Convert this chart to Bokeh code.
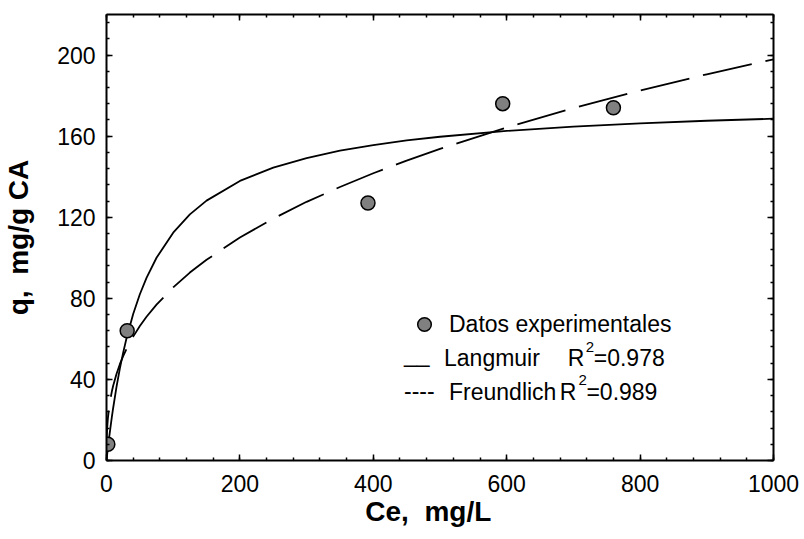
from bokeh.plotting import figure
from bokeh.models import (SingleIntervalTicker, LinearAxis, Legend, LegendItem,
                          Label, Range1d, CustomLabelingPolicy)
from bokeh.embed import file_html
from bokeh.resources import INLINE

ce_exp = [2, 31, 392, 594, 760]
q_exp = [8, 64, 127, 176, 174]

# Fitted curves
ce_fit = [0, 0.1, 0.5, 1, 2, 4, 6, 8, 10, 15, 20, 25, 30, 40, 50, 60, 75, 100,
          125, 150, 200, 250, 300, 350, 400, 450, 500, 600, 700, 800, 900, 1000]
q_langmuir = [0, 0.3, 1.5, 3.0, 5.9, 11.4, 16.5, 21.4, 25.9, 36.3, 45.3, 53.2,
              60.3, 72.3, 82.0, 90.1, 100.0, 112.4, 121.4, 128.2, 137.9, 144.5,
              149.2, 152.8, 155.6, 157.9, 159.7, 162.6, 164.7, 166.3, 167.6, 168.6]
q_freundlich = [0, 6.9, 12.4, 15.9, 20.5, 26.4, 30.6, 34.0, 36.9, 42.7, 47.5,
                51.5, 55.0, 61.1, 66.3, 70.9, 76.9, 85.4, 92.7, 99.0, 110.0,
                119.3, 127.6, 134.9, 141.7, 147.9, 153.7, 164.3, 173.8, 182.5,
                190.5, 197.9]

x_ticks_interval = 200
y_ticks_interval = 40

FONT = "Liberation Sans"
NB = "\u00a0"

p = figure(width=804, height=539, x_range=Range1d(0, 1000), y_range=Range1d(0, 220),
           output_backend="svg", toolbar_location=None,
           min_border_left=105, min_border_right=31, min_border_top=14,
           min_border_bottom=79,
           x_axis_label="Ce," + NB + " mg/L" + NB * 3,
           y_axis_label="q," + NB + " mg/g CA")
p.xgrid.visible = False
p.ygrid.visible = False
p.outline_line_color = None
p.background_fill_color = "white"
p.border_fill_color = "white"


def style_axis(ax, ticker, labels=True):
    ax.ticker = ticker
    ax.axis_line_width = 2
    ax.axis_line_color = "black"
    ax.major_tick_in = 6
    ax.major_tick_out = 0
    ax.minor_tick_in = 3
    ax.minor_tick_out = 0
    ax.major_tick_line_width = 1.5
    ax.minor_tick_line_width = 1.5
    ax.major_tick_line_color = "black"
    ax.minor_tick_line_color = "black"
    if labels:
        ax.major_label_text_font = FONT
        ax.major_label_text_font_size = "23px"
        ax.major_label_text_color = "black"
        ax.axis_label_text_font = FONT
        ax.axis_label_text_font_size = "28px"
        ax.axis_label_text_font_style = "bold"
        ax.axis_label_text_color = "black"
    else:
        ax.major_label_policy = CustomLabelingPolicy(code="return []")
        ax.major_label_standoff = 0
        ax.axis_label = None


style_axis(p.xaxis[0], SingleIntervalTicker(interval=x_ticks_interval, num_minor_ticks=5))
style_axis(p.yaxis[0], SingleIntervalTicker(interval=y_ticks_interval, num_minor_ticks=5))
p.xaxis[0].major_label_standoff = 14
p.xaxis[0].axis_label_standoff = 1
p.yaxis[0].major_label_standoff = 11
p.yaxis[0].axis_label_standoff = 20

top_ax = LinearAxis()
style_axis(top_ax, SingleIntervalTicker(interval=x_ticks_interval, num_minor_ticks=5), labels=False)
p.add_layout(top_ax, "above")
right_ax = LinearAxis()
style_axis(right_ax, SingleIntervalTicker(interval=y_ticks_interval, num_minor_ticks=5), labels=False)
p.add_layout(right_ax, "right")

# Curves
p.line(ce_fit, q_langmuir, line_color="black", line_width=1.8)
p.line(ce_fit, q_freundlich, line_color="black", line_width=1.8, line_dash="50 14")

pts = p.scatter(ce_exp, q_exp, size=14, fill_color="#808080", line_color="black",
                line_width=1.5)

legend = Legend(items=[LegendItem(label="Datos experimentales", renderers=[pts])],
                location=(301, 119), padding=0, margin=0, border_line_color=None,
                background_fill_alpha=0, glyph_width=34, glyph_height=34,
                label_standoff=8, label_text_font=FONT, label_text_font_size="23px",
                label_text_color="black")
p.add_layout(legend, "center")


def lab(x, y, text, size="23px"):
    p.add_layout(Label(x=x, y=y, text=text, text_font=FONT, text_font_size=size,
                       text_color="black", text_baseline="alphabetic",
                       text_align="left"))


# Row 2: Langmuir
lab(446, 52.5, "__")
lab(506, 50.5, "Langmuir")
lab(691.6, 50.5, "R")
lab(718.6, 56.0, "2", "15px")
lab(730.5, 50.5, "=0.978")
# Row 3: Freundlich
lab(446, 34.5, "----")
lab(513.5, 34.0, "Freundlich")
lab(679.5, 34.0, "R")
lab(707.5, 39.5, "2", "15px")
lab(719.5, 34.0, "=0.989")

open("out.html", "w").write(file_html(p, INLINE))
